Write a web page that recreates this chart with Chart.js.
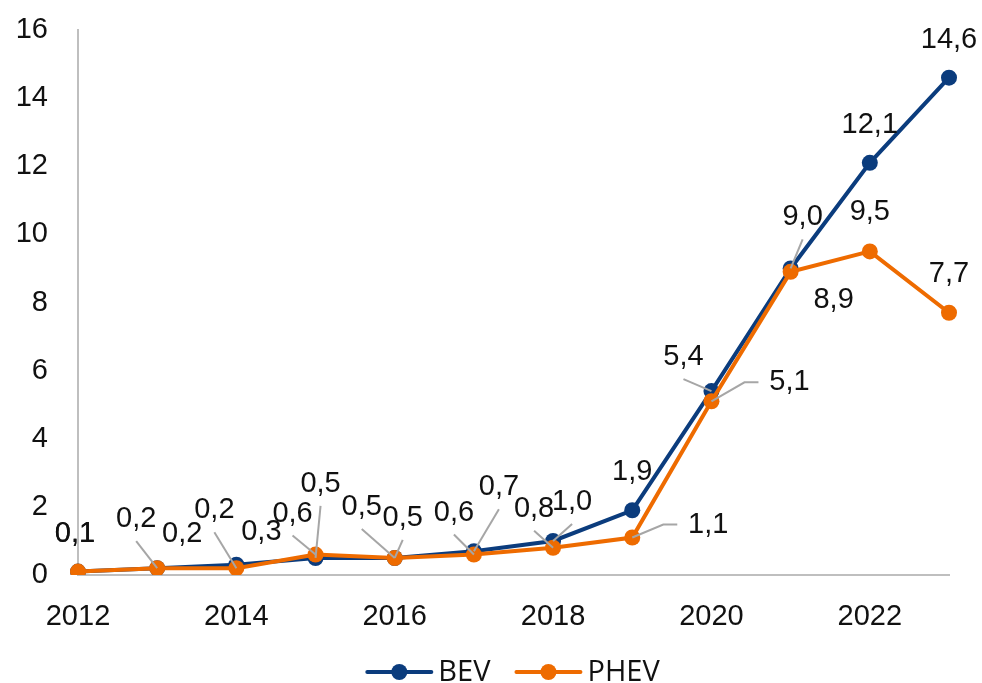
<!DOCTYPE html>
<html>
<head>
<meta charset="utf-8">
<script src="https://cdn.jsdelivr.net/npm/chart.js@4.4.0/dist/chart.umd.min.js"></script>
<style>
    html, body { margin: 0; padding: 0; background: #fff; }
    #wrap { width: 982px; height: 683px; position: relative; }
</style>
</head>
<body>
<div id="wrap"><canvas id="myChart"></canvas></div>
<script>
const years = ['2012', '2013', '2014', '2015', '2016', '2017', '2018', '2019', '2020', '2021', '2022', '2023'];
const bevValues = [0.1, 0.2, 0.3, 0.5, 0.5, 0.7, 1.0, 1.9, 5.4, 9.0, 12.1, 14.6];
const phevValues = [0.1, 0.2, 0.2, 0.6, 0.5, 0.6, 0.8, 1.1, 5.1, 8.9, 9.5, 7.7];
const yTicks = [0, 2, 4, 6, 8, 10, 12, 14, 16];

// где стоит подпись относительно точки: [dx, dy, выноска] 0 - нет, 1 - прямая, 2 - с изломом
const bevLabelPos = [
    [-3, -38, 0], [-21, -49, 1], [25, -33, 0], [5, -74, 1], [8, -40, 1], [25, -64, 1],
    [19, -39, 1], [0, -38, 0], [-28, -34, 1], [12, -51, 1], [0, -38, 0], [0, -38, 0]
];
const phevLabelPos = [
    [-3, -38, 0], [25, -34, 0], [-22, -58, 1], [-23, -41, 1], [-33, -51, 1], [-20, -42, 1],
    [-19, -39, 1], [76, -13, 2], [78, -19, 2], [43, 28, 0], [0, -39, 0], [0, -39, 0]
];

const BLUE = '#0B3C7D';
const ORANGE = '#EE6B00';
const AXIS_GRAY = '#BFBFBF';
const LEADER_GRAY = '#A6A6A6';
const TEXT_FONT = '29px "Liberation Sans", Arial, sans-serif';

const dataLabels = {
    id: 'dataLabels',
    afterDatasetsDraw(chart) {
        const ctx = chart.ctx;
        ctx.save();
        ctx.font = TEXT_FONT;
        ctx.textAlign = 'center';
        ctx.textBaseline = 'middle';
        chart.data.datasets.forEach((ds, i) => {
            const meta = chart.getDatasetMeta(i);
            meta.data.forEach((pt, j) => {
                const [dx, dy, leader] = ds.labelPos[j];
                const lx = pt.x + dx;
                const ly = pt.y + dy;
                ctx.strokeStyle = LEADER_GRAY;
                ctx.lineWidth = 2;
                if (leader === 1) {
                    ctx.beginPath();
                    ctx.moveTo(lx, ly + 22);
                    ctx.lineTo(pt.x, pt.y);
                    ctx.stroke();
                } else if (leader === 2) {
                    ctx.beginPath();
                    ctx.moveTo(lx - 31, ly);
                    ctx.lineTo(lx - 45, ly);
                    ctx.lineTo(pt.x, pt.y);
                    ctx.stroke();
                }
                ctx.fillStyle = '#111';
                ctx.fillText(ds.data[j].toFixed(1).replace('.', ','), lx, ly);
            });
        });
        ctx.restore();
    }
};

const lineLegend = {
    id: 'lineLegend',
    afterDraw(chart) {
        const ctx = chart.ctx;
        const area = chart.chartArea;
        ctx.save();
        ctx.font = '29px "Open Sans", sans-serif';
        ctx.textBaseline = 'middle';
        ctx.textAlign = 'left';
        const items = chart.data.datasets.map(ds => ({
            label: ds.label,
            color: ds.borderColor,
            w: 64 + 7 + ctx.measureText(ds.label).width
        }));
        const gap = 26;
        const total = items.reduce((s, it) => s + it.w, 0) + gap * (items.length - 1);
        let x = (area.left + area.right) / 2 - total / 2;
        const y = chart.height - 11;
        items.forEach(it => {
            ctx.strokeStyle = it.color;
            ctx.lineWidth = 4;
            ctx.lineCap = 'round';
            ctx.beginPath();
            ctx.moveTo(x, y);
            ctx.lineTo(x + 64, y);
            ctx.stroke();
            ctx.fillStyle = it.color;
            ctx.beginPath();
            ctx.arc(x + 32, y, 8, 0, Math.PI * 2);
            ctx.fill();
            ctx.fillStyle = '#111';
            ctx.fillText(it.label, x + 71, y + 1);
            x += it.w + gap;
        });
        ctx.restore();
    }
};

const myChart = new Chart(document.getElementById('myChart'), {
    type: 'line',
    data: {
        labels: years,
        datasets: [{
            label: 'BEV',
            data: bevValues,
            labelPos: bevLabelPos,
            borderColor: BLUE,
            backgroundColor: BLUE,
            pointBackgroundColor: BLUE,
            pointBorderColor: BLUE,
            borderWidth: 4,
            pointRadius: 8,
            pointBorderWidth: 0,
            tension: 0,
            order: 1
        }, {
            label: 'PHEV',
            data: phevValues,
            labelPos: phevLabelPos,
            borderColor: ORANGE,
            backgroundColor: ORANGE,
            pointBackgroundColor: ORANGE,
            pointBorderColor: ORANGE,
            borderWidth: 4,
            pointRadius: 8,
            pointBorderWidth: 0,
            tension: 0,
            order: 0
        }]
    },
    options: {
        responsive: true,
        maintainAspectRatio: false,
        animation: false,
        layout: {
            padding: {top: 30, right: 33, bottom: 0, left: 0}
        },
        plugins: {
            legend: {display: false},
            tooltip: {enabled: false}
        },
        scales: {
            x: {
                offset: false,
                grid: {display: false},
                border: {display: true, color: AXIS_GRAY, width: 2},
                afterFit: s => { s.height = 108; },
                ticks: {
                    autoSkip: false,
                    maxRotation: 0,
                    padding: 17,
                    color: '#111',
                    font: {family: '"Liberation Sans", Arial, sans-serif', size: 29},
                    callback: function (value, index) {
                        return index % 2 === 0 ? this.getLabelForValue(value) : '';
                    }
                }
            },
            y: {
                min: 0,
                max: 16,
                grid: {display: false},
                border: {display: true, color: AXIS_GRAY, width: 2},
                afterFit: s => {
                    s.width = 78;
                    s.paddingTop = 0;
                    s.paddingBottom = 0;
                },
                afterBuildTicks: s => { s.ticks = yTicks.map(v => ({value: v})); },
                ticks: {
                    padding: 22,
                    color: '#111',
                    font: {family: '"Liberation Sans", Arial, sans-serif', size: 29}
                }
            }
        }
    },
    plugins: [dataLabels, lineLegend]
});
</script>
</body>
</html>
